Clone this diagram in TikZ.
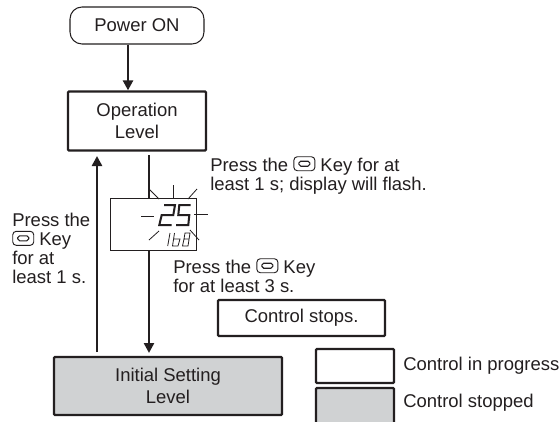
\documentclass[tikz,border=0pt]{standalone}
\usepackage{fontspec}
\setmainfont{Liberation Sans}
\usepackage{xcolor}
\usetikzlibrary{arrows.meta,positioning,calc}
\definecolor{boxgray}{RGB}{208,210,211}
\definecolor{inkblack}{RGB}{35,31,32}
\newcommand{\keyicon}{\tikz[baseline=-0.25pt,x=0.75pt,y=-0.75pt,line width=0.7pt,draw=inkblack]{%
  \draw[rounded corners=2.6pt] (0,-14) rectangle (21,0);
  \draw[rounded corners=1.4pt,line width=0.8pt] (5,-9.5) rectangle (16,-4.5);}}

\begin{document}
\begin{tikzpicture}[
  x=0.75pt, y=-0.75pt,
  font=\fontsize{13.85}{14.25}\selectfont,
  text=inkblack,
  flowbox/.style={draw=inkblack, line width=1.7pt, rounded corners=0.8pt, align=center, inner sep=0pt, font=\fontsize{13.85}{16.5}\selectfont},
  thinbox/.style={draw=inkblack, line width=0.8pt, rounded corners=9pt, align=center, inner sep=0pt},
  lbl/.style={align=left, anchor=north west, inner sep=0pt},
  flash/.style={draw=inkblack, line width=0.6pt},
  seg/.style={draw=inkblack, line width=1.5pt},
  smallseg/.style={draw=inkblack, line width=0.6pt},
  flow/.style={draw=inkblack, line width=1.8pt, -{Triangle[length=7.5pt,width=7.5pt]}},
]
\path[use as bounding box, clip] (0,0) rectangle (560,421);
\fill[white] (0,0) rectangle (560,421);

\node[thinbox, minimum width=100.5pt, minimum height=27.75pt] (power) at (137,25.5) {Power ON};
\node[flowbox, minimum width=103.5pt, minimum height=44.25pt] (oper) at (137,121) {Operation\\Level};
\node[flowbox, line width=0.6pt, rounded corners=0pt, minimum width=64.5pt, minimum height=39pt] (lcd) at (153,224) {};
\node[flowbox, fill=boxgray, minimum width=171pt, minimum height=43.5pt] (init) at (168,386) {Initial Setting\\Level};
\node[flowbox, minimum width=125.25pt, minimum height=27pt] (stops) at (301.5,318) {Control stops.};
\node[flowbox, minimum width=58.5pt, minimum height=25.5pt] (inprog) at (355,366) {};
\node[flowbox, fill=boxgray, minimum width=58.5pt, minimum height=28.5pt] (stopped) at (355,407) {};

\coordinate (powerx) at (128,0);
\coordinate (downx) at (149,0);
\coordinate (opergap) at (149,155);
\coordinate (initgap) at (149,353);
\coordinate (upstart) at (97,352);
\coordinate (upend) at (97,156);

\draw[flow] (power.south -| powerx) -- (oper.north -| powerx);
\draw[flow] (upstart) -- (upend);
\draw[draw=inkblack, line width=1.8pt] (opergap) -- (lcd.north -| downx);
\draw[flow] (lcd.south -| downx) -- (initgap);

% flashing rays round the display
\draw[flash] (149,189) -- (159,199);
\draw[flash] (173,185) -- (173,199);
\draw[flash] (197,189) -- (188,199);
\draw[flash] (141,216) -- (154,216);
\draw[flash] (194,214) -- (208,214);
\draw[flash] (149,240) -- (159,231);
\draw[flash] (190,230) -- (199,240);

% segments of the display
\draw[seg] (164,205) -- (175,205) -- (173.3,215) -- (161.7,215) -- (159.3,225) -- (171.7,225);
\draw[seg] (190.7,205) -- (179.3,205) -- (178.3,215) -- (189.3,215) -- (188.3,225) -- (176,225);
\draw[smallseg] (170,233) -- (167.7,246);
\draw[smallseg] (174.5,233) -- (172.5,246) -- (178,246) -- (180,239) -- (173.7,239);
\draw[smallseg] (184,239) -- (182.5,246) -- (188,246) -- (190,233) -- (185,233) -- (184,239) -- (189,239);

\node[lbl] (presstop) at (210,156) {Press the \keyicon{} Key for at\\least 1 s; display will flash.};
\node[lbl] (pressleft) at (12,213) {Press the\\\keyicon{} Key\\for at\\least 1 s.};
\node[lbl] (pressmid) at (173,258) {Press the \keyicon{} Key\\for at least 3 s.};
\node[lbl, anchor=west] (inproglbl) at (403,366) {Control in progress};
\node[lbl, anchor=west] (stoppedlbl) at (403,403) {Control stopped};
\end{tikzpicture}
\end{document}
